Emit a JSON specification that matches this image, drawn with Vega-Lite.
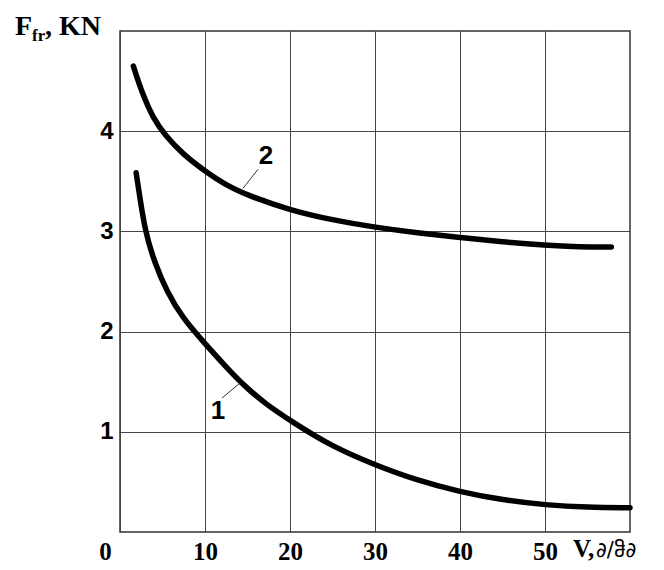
{
  "$schema": "https://vega.github.io/schema/vega-lite/v6.json",
  "width": 510,
  "height": 501,
  "autosize": {"type": "none"},
  "padding": {"left": 120, "top": 31, "right": 34, "bottom": 38},
  "background": "white",
  "config": {
    "view": {"stroke": "#333", "strokeWidth": 1.5},
    "axis": {"domain": false, "ticks": false, "grid": true, "gridColor": "#444", "gridWidth": 1, "gridOpacity": 1, "title": null}
  },
  "datasets": {
    "curves": [
      {"series": "1", "v": 1.9, "f": 3.585},
      {"series": "1", "v": 2.3, "f": 3.36},
      {"series": "1", "v": 2.96, "f": 3.0},
      {"series": "1", "v": 4.02, "f": 2.7},
      {"series": "1", "v": 5.5, "f": 2.4},
      {"series": "1", "v": 7.4, "f": 2.13},
      {"series": "1", "v": 10.0, "f": 1.88},
      {"series": "1", "v": 12.5, "f": 1.645},
      {"series": "1", "v": 14.6, "f": 1.46},
      {"series": "1", "v": 17.1, "f": 1.28},
      {"series": "1", "v": 20.06, "f": 1.11},
      {"series": "1", "v": 24.76, "f": 0.86},
      {"series": "1", "v": 30.05, "f": 0.667},
      {"series": "1", "v": 34.9, "f": 0.517},
      {"series": "1", "v": 40.0, "f": 0.4},
      {"series": "1", "v": 45.07, "f": 0.318},
      {"series": "1", "v": 50.06, "f": 0.269},
      {"series": "1", "v": 55.0, "f": 0.245},
      {"series": "1", "v": 60.0, "f": 0.242},
      {"series": "2", "v": 1.57, "f": 4.65},
      {"series": "2", "v": 2.6, "f": 4.38},
      {"series": "2", "v": 3.9, "f": 4.13},
      {"series": "2", "v": 5.29, "f": 3.96},
      {"series": "2", "v": 7.4, "f": 3.77},
      {"series": "2", "v": 10.0, "f": 3.6},
      {"series": "2", "v": 12.5, "f": 3.46},
      {"series": "2", "v": 15.0, "f": 3.36},
      {"series": "2", "v": 20.06, "f": 3.21},
      {"series": "2", "v": 25.2, "f": 3.11},
      {"series": "2", "v": 30.05, "f": 3.04},
      {"series": "2", "v": 35.0, "f": 2.985},
      {"series": "2", "v": 40.0, "f": 2.94},
      {"series": "2", "v": 45.0, "f": 2.895},
      {"series": "2", "v": 50.06, "f": 2.86},
      {"series": "2", "v": 54.0, "f": 2.845},
      {"series": "2", "v": 57.8, "f": 2.845}
    ],
    "leaders": [
      {"series": "1", "v": 14.12, "f": 1.487},
      {"series": "1", "v": 12.0, "f": 1.337},
      {"series": "2", "v": 16.24, "f": 3.62},
      {"series": "2", "v": 14.47, "f": 3.43}
    ]
  },
  "layer": [
    {
      "data": {"name": "curves"},
      "mark": {"type": "line", "color": "black", "strokeWidth": 5.5, "interpolate": "basis", "strokeCap": "round", "clip": false},
      "encoding": {
        "x": {"field": "v", "type": "quantitative", "scale": {"domain": [0, 60], "nice": false},
          "axis": {"values": [0, 10, 20, 30, 40, 50], "format": "d", "labelFont": "Liberation Serif", "labelFontWeight": "bold", "labelFontSize": 25, "labelColor": "black", "labelPadding": 7, "labelFlush": false, "labelOffset": {"condition": {"test": "datum.value == 0", "value": -15}, "value": 0}}},
        "y": {"field": "f", "type": "quantitative", "scale": {"domain": [0, 5], "nice": false},
          "axis": {"values": [1, 2, 3, 4], "format": "d", "labelFont": "Liberation Sans", "labelFontWeight": "bold", "labelFontSize": 24, "labelColor": "black", "labelPadding": 7}},
        "detail": {"field": "series"}
      }
    },
    {
      "data": {"name": "leaders"},
      "mark": {"type": "line", "color": "#333", "strokeWidth": 1},
      "encoding": {
        "x": {"field": "v", "type": "quantitative"},
        "y": {"field": "f", "type": "quantitative"},
        "detail": {"field": "series"}
      }
    },
    {
      "data": {"values": [
        {"t": "1", "v": 11.53, "f": 1.21, "font": "Liberation Serif"},
        {"t": "2", "v": 17.18, "f": 3.75, "font": "Liberation Sans"}
      ]},
      "mark": {"type": "text", "fontWeight": "bold", "fontSize": 26, "color": "black", "align": "center", "baseline": "middle"},
      "encoding": {
        "x": {"field": "v", "type": "quantitative"},
        "y": {"field": "f", "type": "quantitative"},
        "text": {"field": "t"},
        "font": {"field": "font", "type": "nominal", "scale": null}
      }
    },
    {
      "data": {"values": [
        {"t": "F", "v": -12.35, "f": 4.96, "size": 28},
        {"t": "fr", "v": -10.35, "f": 4.9, "size": 17},
        {"t": ", KN", "v": -8.82, "f": 4.96, "size": 28},
        {"t": "V,", "v": 53.3, "f": -0.25, "size": 25}
      ]},
      "mark": {"type": "text", "font": "Liberation Serif", "fontWeight": "bold", "color": "black", "align": "left", "baseline": "alphabetic"},
      "encoding": {
        "x": {"field": "v", "type": "quantitative"},
        "y": {"field": "f", "type": "quantitative"},
        "text": {"field": "t"},
        "size": {"field": "size", "type": "quantitative", "scale": null}
      }
    },
    {
      "data": {"values": [
        {"t": "∂/ჵ∂", "v": 56.0, "f": -0.25}
      ]},
      "mark": {"type": "text", "font": "DejaVu Sans", "fontSize": 21, "color": "black", "align": "left", "baseline": "alphabetic"},
      "encoding": {
        "x": {"field": "v", "type": "quantitative"},
        "y": {"field": "f", "type": "quantitative"},
        "text": {"field": "t"}
      }
    }
  ]
}
